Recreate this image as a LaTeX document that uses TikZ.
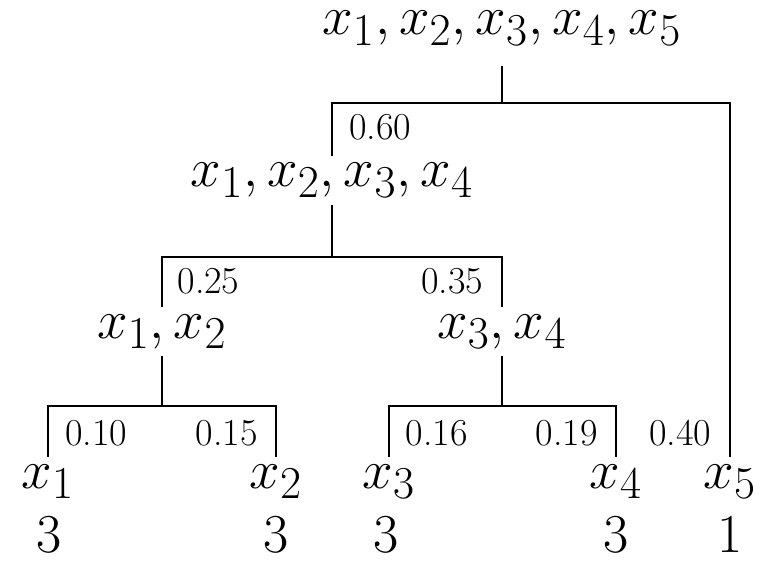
\documentclass[tikz,border=0pt]{standalone}
\begin{document}
\begin{tikzpicture}[x=0.4538pt,y=-0.4538pt,
  tree/.style={line width=0.55pt},
  big/.style={font=\Huge, anchor=base},
  lab/.style={font=\LARGE, anchor=base, inner sep=1pt},
  num/.style={font=\Huge, anchor=base, inner sep=0pt}]
\useasboundingbox (0,0) rectangle (766,562);
% nodes
\node[big, inner ysep=0pt] (r) at (502,35) {$x_1, x_2, x_3, x_4, x_5$};
\node[big] (a) at (332,187) {$x_1, x_2, x_3, x_4$};
\node[big] (b) at (162,338) {$x_1, x_2$};
\node[big] (c) at (502,338) {$x_3, x_4$};
\node[big] (l1) at (48,488) {$x_1$};
\node[big] (l2) at (276,488) {$x_2$};
\node[big] (l3) at (389,488) {$x_3$};
\node[big] (l4) at (616,488) {$x_4$};
\node[big] (l5) at (730,488) {$x_5$};
\node[num] (c1) at (49,552) {3};
\node[num] (c2) at (276,552) {3};
\node[num] (c3) at (386,552) {3};
\node[num] (c4) at (616,552) {3};
\node[num] (c5) at (730,552) {1};
% junctions
\coordinate (j0) at (502,103);
\coordinate (j1) at (332,257);
\coordinate (j2) at (162,406);
\coordinate (j3) at (502,406);
% connectors
\draw[tree, shorten <=9pt] (r.south) -- (j0);
\draw[tree] (a.north) |- (j0) -| (l5.north);
\draw[tree] (a.south) -- (j1);
\draw[tree] (b.north) |- (j1) -| (c.north);
\draw[tree] (b.south) -- (j2);
\draw[tree] (l1.north) |- (j2) -| (l2.north);
\draw[tree] (c.south) -- (j3);
\draw[tree] (l3.north) |- (j3) -| (l4.north);
% weights
\node[lab] (w1) at (380,140) {0.60};
\node[lab] (w2) at (680,445) {0.40};
\node[lab] (w3) at (208.5,293) {0.25};
\node[lab] (w4) at (452,293) {0.35};
\node[lab] (w5) at (96,445) {0.10};
\node[lab] (w6) at (226.5,445) {0.15};
\node[lab] (w7) at (436.5,445) {0.16};
\node[lab] (w8) at (566.5,445) {0.19};
\end{tikzpicture}
\end{document}
